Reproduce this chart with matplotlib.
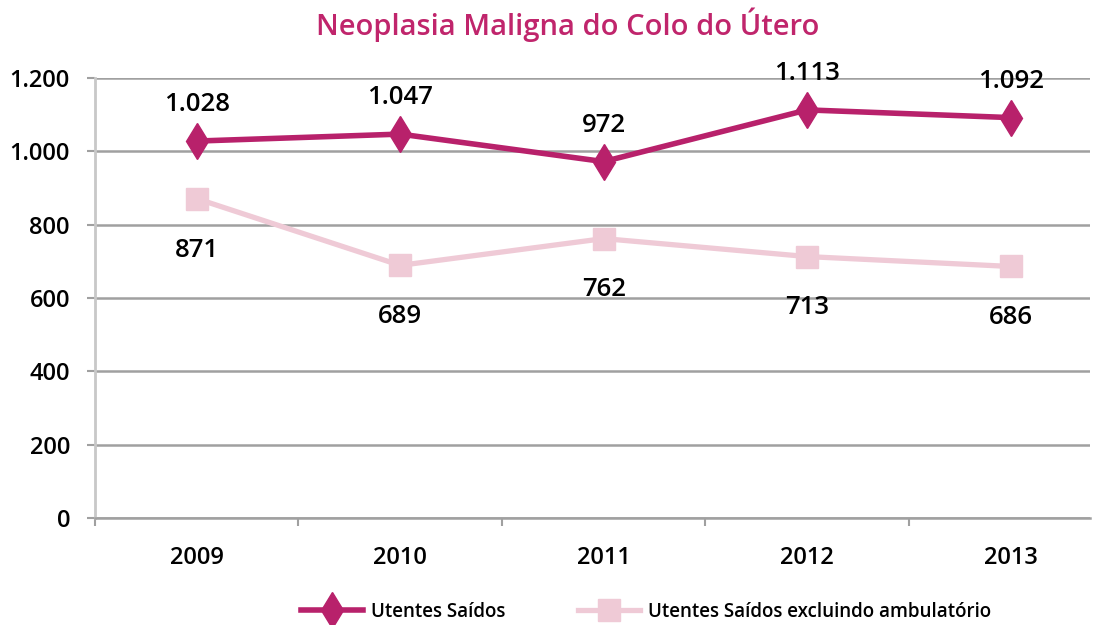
# Neoplasia Maligna do Colo do Útero - line chart

import matplotlib.pyplot as plt
import numpy as np

plt.rcParams['font.family'] = ['Open Sans', 'DejaVu Sans']

anos = ['2009', '2010', '2011', '2012', '2013']
saidos = [1028, 1047, 972, 1113, 1092]
saidos_sem_amb = [871, 689, 762, 713, 686]
rotulos_saidos = ['1.028', '1.047', '972', '1.113', '1.092']
rotulos_sem_amb = ['871', '689', '762', '713', '686']

cor1 = '#B8216B'
cor2 = '#EFCAD6'

fig = plt.figure(figsize=(10.98, 6.25), dpi=100)
ax = fig.add_axes([95 / 1098, 1 - 518 / 625, 995 / 1098, 440 / 625])

x = np.arange(len(anos))

ax.plot(x, saidos_sem_amb, color=cor2, linewidth=3.8, marker='s', markersize=16,
        label='Utentes Saídos excluindo ambulatório', zorder=3)
ax.plot(x, saidos, color=cor1, linewidth=4, marker='d', markersize=18,
        label='Utentes Saídos', zorder=4)

for xi, v, t in zip(x, saidos, rotulos_saidos):
    ax.annotate(t, (xi, v), xytext=(0, 17), textcoords='offset points',
                ha='center', va='bottom', fontsize=18.5, fontweight='semibold')
for xi, v, t in zip(x, saidos_sem_amb, rotulos_sem_amb):
    ax.annotate(t, (xi, v), xytext=(0, -28), textcoords='offset points',
                ha='center', va='top', fontsize=18.5, fontweight='semibold')

ax.set_xlim(-0.5, 4.39)
ax.set_ylim(0, 1200)
ax.set_yticks(np.arange(0, 1201, 200))
ax.set_yticklabels(['0', '200', '400', '600', '800', '1.000', '1.200'],
                   fontsize=17, fontweight='semibold')
ax.set_xticks(x)
ax.set_xticklabels(anos, fontsize=17, fontweight='semibold')
ax.set_xticks(np.arange(-0.5, 4.5, 1), minor=True)
ax.tick_params(axis='x', which='major', length=0, pad=20)
ax.tick_params(axis='x', which='minor', length=6, color='#A0A0A0', width=1.5)
ax.tick_params(axis='y', length=6, color='#A0A0A0', width=1.5, pad=12)

ax.grid(axis='y', color='#A0A0A0', linewidth=1.8)
ax.set_axisbelow(True)
for s in ['top', 'right']:
    ax.spines[s].set_visible(False)
ax.spines['left'].set_color('#C8C8C8')
ax.spines['left'].set_linewidth(2)
ax.spines['bottom'].set_color('#A0A0A0')
ax.spines['bottom'].set_linewidth(1.8)

h, l = ax.get_legend_handles_labels()
fig.legend(h[::-1], l[::-1], loc='center', bbox_to_anchor=(646 / 1098, 1 - 612 / 625),
           ncol=2, frameon=False, prop={'weight': 'semibold', 'size': 13.5},
           columnspacing=3.9, handlelength=3.3, handletextpad=0.4)

fig.text(568 / 1098, 1 - 25 / 625, 'Neoplasia Maligna do Colo do Útero', ha='center',
         va='center', fontsize=21, fontweight='semibold', color='#C0256C')

plt.savefig('out.png')
plt.close()
